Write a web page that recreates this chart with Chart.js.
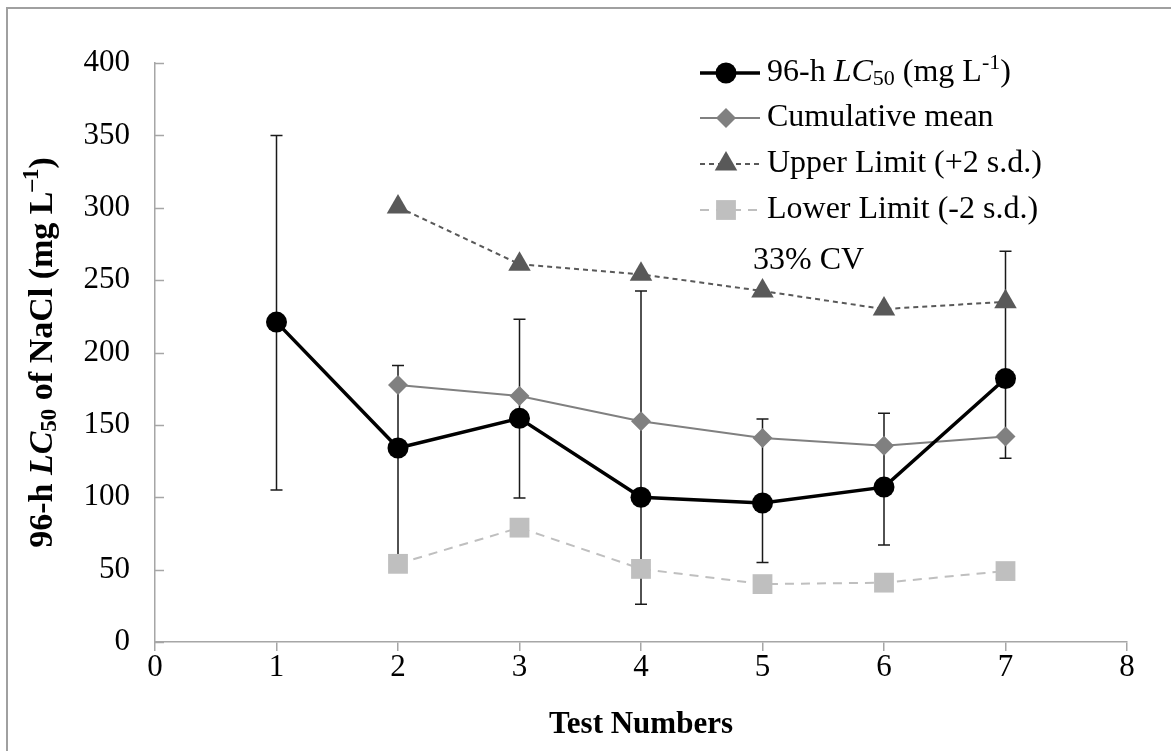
<!DOCTYPE html>
<html lang="en">
<head>
  <meta charset="UTF-8">
  <title>96-h LC50 of NaCl by test number</title>
  <script src="https://cdn.jsdelivr.net/npm/chart.js@4.4.3/dist/chart.umd.min.js"></script>
  <style>
    html, body { margin: 0; padding: 0; background: #fff; }
    #wrap { width: 1171px; height: 751px; position: relative; }
  </style>
</head>
<body>
  <div id="wrap"><canvas id="chart"></canvas></div>
  <script>
    // values
    const testNumbers = [1, 2, 3, 4, 5, 6, 7];
    const lc50 = [221, 134, 154.5, 100, 96, 107, 182];
    const lc50High = [350, 191, 223, 242.5, 154, 158, 270];
    const lc50Low = [105, 55, 99.5, 26, 55, 67, 127];
    const cumulativeMean = [null, 177.5, 170, 152.5, 141, 135.5, 142];
    const upperLimit = [null, 300.5, 261, 254, 242.5, 230, 235];
    const lowerLimit = [null, 54, 79, 50.5, 40, 41, 49];

    const FONT = "'Times New Roman', 'Liberation Serif', serif";
    const AXIS = '#a6a6a6';

    const pts = arr => testNumbers
      .map((x, i) => ({ x: x, y: arr[i] }))
      .filter(p => p.y !== null);

    const series = [
      { label: '96-h LC50 (mg L-1)', data: pts(lc50), color: '#000000', width: 3.5, dash: [], style: 'circle', radius: 10.5 },
      { label: 'Cumulative mean', data: pts(cumulativeMean), color: '#808080', width: 2, dash: [], style: 'rectRot', radius: 10 },
      { label: 'Upper Limit (+2 s.d.)', data: pts(upperLimit), color: '#595959', width: 2, dash: [5, 4], style: 'triangle', radius: 13 },
      { label: 'Lower Limit (-2 s.d.)', data: pts(lowerLimit), color: '#bfbfbf', width: 2, dash: [9, 7], style: 'rect', radius: 14 }
    ];

    // draw runs of text with different fonts / offsets
    function richText(ctx, parts, x, y) {
      let cx = x;
      parts.forEach(p => {
        ctx.font = p.font;
        ctx.fillText(p.t, cx, y + (p.dy || 0));
        cx += ctx.measureText(p.t).width;
      });
      return cx - x;
    }
    function richWidth(ctx, parts) {
      let w = 0;
      parts.forEach(p => { ctx.font = p.font; w += ctx.measureText(p.t).width; });
      return w;
    }

    const extras = {
      id: 'extras',
      beforeDatasetsDraw(chart) {
        // error bars on the LC50 series
        const ctx = chart.ctx, xs = chart.scales.x, ys = chart.scales.y;
        ctx.save();
        ctx.strokeStyle = '#1a1a1a';
        ctx.lineWidth = 1.5;
        testNumbers.forEach((t, i) => {
          const px = xs.getPixelForValue(t);
          const top = ys.getPixelForValue(lc50High[i]);
          const bot = ys.getPixelForValue(lc50Low[i]);
          ctx.beginPath();
          ctx.moveTo(px, top); ctx.lineTo(px, bot);
          ctx.moveTo(px - 6, top); ctx.lineTo(px + 6, top);
          ctx.moveTo(px - 6, bot); ctx.lineTo(px + 6, bot);
          ctx.stroke();
        });
        ctx.restore();
      },
      afterDraw(chart) {
        const ctx = chart.ctx, ys = chart.scales.y, area = chart.chartArea;
        ctx.save();

        // frame around the figure (cropped: only left and top visible)
        ctx.strokeStyle = '#a0a0a0';
        ctx.lineWidth = 2;
        ctx.beginPath();
        ctx.moveTo(7, 751); ctx.lineTo(7, 8); ctx.lineTo(1171, 8);
        ctx.stroke();

        // y tick marks point into the plot
        ctx.strokeStyle = AXIS;
        ctx.lineWidth = 1.5;
        ys.ticks.forEach(tk => {
          const py = Math.round(ys.getPixelForValue(tk.value)) + 0.5;
          ctx.beginPath();
          ctx.moveTo(area.left, py); ctx.lineTo(area.left + 9, py);
          ctx.stroke();
        });

        ctx.fillStyle = '#000';
        ctx.textBaseline = 'middle';

        // x title
        ctx.font = 'bold 31px ' + FONT;
        ctx.textAlign = 'center';
        ctx.fillText('Test Numbers', (area.left + area.right) / 2, 725);

        // y title with italic LC and sub/superscripts
        ctx.textAlign = 'left';
        const b = 'bold 34px ' + FONT, bs = 'bold 23px ' + FONT;
        const yTitle = [
          { t: '96-h ', font: b },
          { t: 'LC', font: 'italic ' + b },
          { t: '50', font: bs, dy: 7 },
          { t: ' of NaCl (mg L', font: b },
          { t: '\u20131', font: bs, dy: -11 },
          { t: ')', font: b }
        ];
        ctx.save();
        ctx.translate(43, (area.top + area.bottom) / 2);
        ctx.rotate(-Math.PI / 2);
        richText(ctx, yTitle, -richWidth(ctx, yTitle) / 2, 0);
        ctx.restore();

        // legend
        const r = '32px ' + FONT, rs = '22px ' + FONT;
        const rows = [73, 118, 164, 210];
        series.forEach((s, i) => {
          const y = rows[i];
          ctx.strokeStyle = s.color;
          ctx.lineWidth = s.width;
          ctx.setLineDash(s.dash);
          ctx.beginPath();
          ctx.moveTo(700, y); ctx.lineTo(760, y);
          ctx.stroke();
          ctx.setLineDash([]);
          ctx.fillStyle = s.color;
          Chart.helpers.drawPoint(ctx, { pointStyle: s.style, radius: s.radius, rotation: 0, borderWidth: 0 }, 726, y);
          ctx.fillStyle = '#000';
          const parts = i === 0
            ? [{ t: '96-h ', font: r }, { t: 'LC', font: 'italic ' + r }, { t: '50', font: rs, dy: 6 },
               { t: ' (mg L', font: r }, { t: '-1', font: rs, dy: -10 }, { t: ')', font: r }]
            : [{ t: s.label, font: r }];
          richText(ctx, parts, 767, y);
        });

        // annotation
        ctx.font = r;
        ctx.fillText('33% CV', 753, 261);
        ctx.restore();
      }
    };

    new Chart(document.getElementById('chart'), {
      type: 'line',
      data: {
        datasets: series.map(s => ({
          label: s.label,
          data: s.data,
          borderColor: s.color,
          backgroundColor: s.color,
          borderWidth: s.width,
          borderDash: s.dash,
          pointStyle: s.style,
          pointRadius: s.radius,
          pointHoverRadius: s.radius,
          pointBorderWidth: 0,
          pointBackgroundColor: s.color,
          tension: 0,
          fill: false
        }))
      },
      options: {
        responsive: true,
        maintainAspectRatio: false,
        animation: false,
        layout: { padding: { top: 63, right: 44, left: 0, bottom: 0 } },
        plugins: { legend: { display: false }, tooltip: { enabled: false } },
        scales: {
          x: {
            type: 'linear', min: 0, max: 8,
            afterFit: sc => { sc.height = 109; },
            ticks: { stepSize: 1, padding: -2, color: '#000', font: { family: FONT, size: 31 } },
            grid: { drawOnChartArea: false, drawTicks: true, tickLength: 9, color: AXIS, lineWidth: 1.5 },
            border: { color: AXIS, width: 1.5 }
          },
          y: {
            min: 0, max: 400,
            afterFit: sc => { sc.width = 155; },
            ticks: { stepSize: 50, padding: 25, color: '#000', font: { family: FONT, size: 31 } },
            grid: { drawOnChartArea: false, drawTicks: false },
            border: { color: AXIS, width: 1.5 }
          }
        }
      },
      plugins: [extras]
    });
  </script>
</body>
</html>
